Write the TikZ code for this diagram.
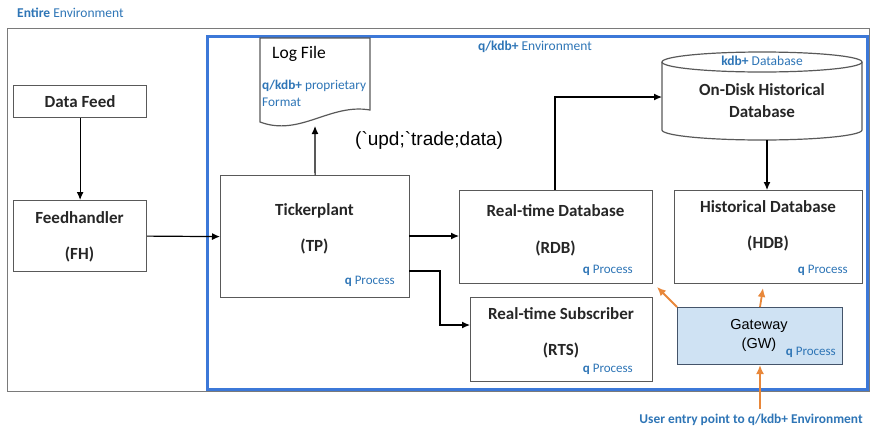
\documentclass[tikz,border=0pt]{standalone}
\usepackage{fontspec}
\setmainfont{Carlito}
\newfontfamily\arialf{Liberation Sans}
\usetikzlibrary{arrows.meta}
\definecolor{kblue}{HTML}{2E75B6}
\definecolor{fblue}{HTML}{3C78D8}
\definecolor{korange}{HTML}{E8873A}
\definecolor{gwfill}{HTML}{CFE2F3}
\definecolor{gwline}{HTML}{44546A}
\definecolor{boxline}{HTML}{595959}
\definecolor{txt}{HTML}{262626}
\tikzset{
  box/.style={draw=boxline, line width=1.2pt, inner sep=0pt, anchor=north west},
  lbl/.style={font=\fontsize{17}{19}\selectfont\bfseries, text=txt, inner sep=0pt},
  qp/.style={font=\fontsize{13}{14}\selectfont, text=kblue, inner sep=0pt, anchor=east},
  conn/.style={line width=1.2pt, draw=black, -{Latex[length=8pt,width=7pt]}},
  oconn/.style={line width=1.8pt, draw=korange, -{Latex[length=9pt,width=8pt]}},
}
\newcommand{\qproc}{{\bfseries q} Process}
\begin{document}
\begin{tikzpicture}[x=1pt,y=-1pt]
\useasboundingbox (0,0) rectangle (883,429);
% environments
\node[font=\fontsize{13.5}{14}\selectfont, text=kblue, anchor=west, inner sep=0pt] (entlbl) at (17,13) {{\bfseries Entire} Environment};
\node[draw=boxline!80, line width=1.2pt, minimum width=862pt, minimum height=363pt, anchor=north west] (entire) at (7,28) {};
\node[draw=fblue, line width=3pt, minimum width=660pt, minimum height=353pt, anchor=north west] (qenv) at (206,35) {};
\node[font=\fontsize{13.5}{14}\selectfont, text=kblue, inner sep=0pt] (qlbl) at (535,47) {{\bfseries q/kdb+} Environment};

% Data feed & FH
\node[box, minimum width=133pt, minimum height=32pt] (df) at (13,85) {};
\node[lbl] at (df.center) {Data Feed};
\node[box, minimum width=133pt, minimum height=71pt] (fh) at (13,200) {};
\node[lbl] at (79.5,218) {Feedhandler};
\node[lbl] at (79.5,254) {(FH)};

% Tickerplant
\node[box, minimum width=189pt, minimum height=122pt] (tp) at (220,175) {};
\node[lbl] at (314.5,211) {Tickerplant};
\node[lbl] at (314.5,246) {(TP)};
\node[qp] at (395,281) {\qproc};

% Log file
\node[minimum width=110pt, minimum height=89pt, anchor=north west, inner sep=0pt] (log) at (260,38) {};
\draw[draw=boxline, line width=1.2pt] (260,38) -- (370,38) -- (370,110) .. controls (330,103) and (300,137) .. (260,122) -- cycle;
\coordinate (logbot) at (315,126);
\node[font=\fontsize{17.5}{19}\selectfont, text=black, inner sep=0pt] at (299,54) {Log File};
\node[font=\fontsize{13.3}{14}\selectfont, text=kblue, inner sep=0pt, anchor=west] at (262,86) {{\bfseries q/kdb+} proprietary};
\node[font=\fontsize{13.3}{14}\selectfont, text=kblue, inner sep=0pt, anchor=west] at (262,102) {Format};
\node[font=\arialf\fontsize{19}{21}\selectfont, inner sep=0pt, anchor=west] (msg) at (355,140) {(`upd;`trade;data)};

% RDB
\node[box, minimum width=193pt, minimum height=93pt] (rdb) at (459,190) {};
\node[lbl] at (555.5,211) {Real-time Database};
\node[lbl] at (555.5,248) {(RDB)};
\node[qp] at (633,270) {\qproc};

% RTS
\node[box, minimum width=182pt, minimum height=84pt] (rts) at (470,297) {};
\node[lbl] at (561,314) {Real-time Subscriber};
\node[lbl] at (561,350) {(RTS)};
\node[qp] at (633,369) {\qproc};

% HDB cylinder
\node[minimum width=200pt, minimum height=88pt, anchor=north west, inner sep=0pt] (disk) at (662,52) {};
\draw[draw=boxline, line width=1.2pt] (662,62) -- (662,130) arc[start angle=180, end angle=360, x radius=100pt, y radius=10pt] -- (862,62);
\draw[draw=boxline, line width=1.2pt] (762,62) ellipse[x radius=100pt, y radius=10pt];
\node[font=\fontsize{13.5}{14}\selectfont, text=kblue, inner sep=0pt] at (762,61) {{\bfseries kdb+} Database};
\node[lbl] at (762,90) {On-Disk Historical};
\node[lbl] at (762,112) {Database};

% HDB
\node[box, minimum width=188pt, minimum height=93pt] (hdb) at (674,190) {};
\node[lbl] at (768,207) {Historical Database};
\node[lbl] at (768,243) {(HDB)};
\node[qp] at (848,270) {\qproc};

% Gateway
\node[draw=gwline, fill=gwfill, line width=1pt, minimum width=165pt, minimum height=57pt, anchor=north west] (gw) at (677,307) {};
\node[font=\arialf\fontsize{14.5}{16}\selectfont, inner sep=0pt] at (759,326) {Gateway};
\node[font=\arialf\fontsize{14.5}{16}\selectfont, inner sep=0pt] at (759,345) {(GW)};
\node[qp] at (836,352) {\qproc};
\node[font=\fontsize{13.4}{14}\selectfont\bfseries, text=kblue, inner sep=0pt] (user) at (751,420) {User entry point to q/kdb+ Environment};
\coordinate (userpt) at (760,409);

% connectors
\draw[conn] (df.south) -- (fh.north);
\draw[conn] (fh.east) -- (tp.west);
\draw[conn] (tp.north) -- (logbot);
\draw[conn] (409,236) -- (rdb.west |- 0,236);
\draw[conn] (409,271) -| (440,325) -- (rts.west |- 0,325);
\draw[conn] (555,190) |- (disk.west |- 0,97);
\draw[conn] (disk.south -| 767,0) -- (hdb.north -| 767,0);
\draw[oconn] (gw.north west) -- (657,287);
\draw[oconn] (760,307) -- (763,288);
\draw[oconn] (userpt) -- (gw.south -| 760,0);
\end{tikzpicture}
\end{document}
